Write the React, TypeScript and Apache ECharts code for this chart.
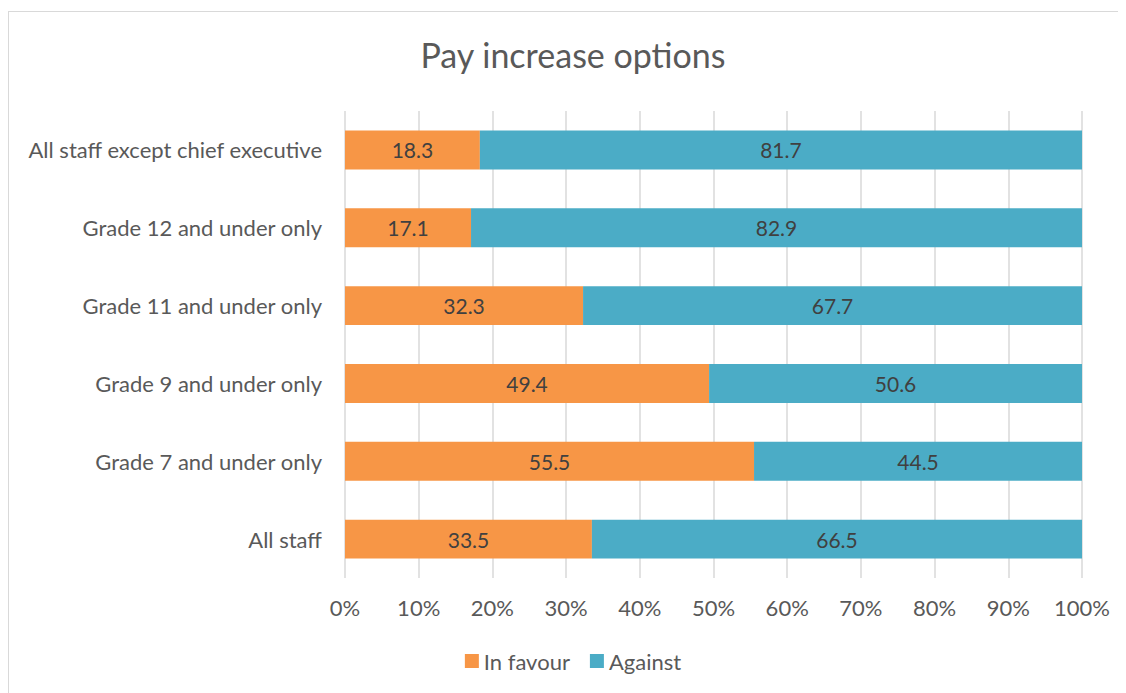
import React, { useEffect, useRef } from "react";
import * as echarts from "echarts";

const categories = [
  "All staff",
  "Grade 7 and under only",
  "Grade 9 and under only",
  "Grade 11 and under only",
  "Grade 12 and under only",
  "All staff except chief executive",
];
const inFavour = [33.5, 55.5, 49.4, 32.3, 17.1, 18.3];
const against = [66.5, 44.5, 50.6, 67.7, 82.9, 81.7];
const seriesNames = ["In favour", "Against"];
const title = "Pay increase options";

const FONT = "Lato, 'Open Sans', sans-serif";

export default function App() {
  const ref = useRef<HTMLDivElement>(null);
  useEffect(() => {
    if (!ref.current) return;
    const chart = echarts.init(ref.current, undefined, { renderer: "svg" });
    chart.setOption({
      animation: false,
      backgroundColor: "#ffffff",
      title: {
        text: title,
        left: 559,
        textAlign: "center",
        top: 20,
        textStyle: { fontFamily: FONT, fontSize: 34, fontWeight: "normal", color: "#595959" },
      },
      legend: {
        bottom: 23,
        left: "center",
        itemWidth: 14,
        itemHeight: 14,
        itemGap: 20,
        icon: "rect",
        textStyle: { fontFamily: FONT, fontSize: 22, color: "#595959" },
        data: seriesNames,
      },
      grid: { left: 336, right: 55, top: 99, bottom: 122, containLabel: false },
      xAxis: {
        type: "value",
        min: 0,
        max: 100,
        interval: 10,
        axisLabel: {
          formatter: (v: number) => v + "%",
          fontFamily: FONT,
          fontSize: 22,
          color: "#595959",
          margin: 18,
        },
        axisLine: { show: false },
        axisTick: { show: false },
        splitLine: { show: true, lineStyle: { color: "#d9d9d9", width: 1.5 } },
      },
      yAxis: {
        type: "category",
        data: categories,
        axisLine: { show: false },
        axisTick: { show: false },
        axisLabel: { fontFamily: FONT, fontSize: 22, color: "#595959", margin: 23 },
      },
      series: [
        {
          name: seriesNames[0],
          type: "bar",
          stack: "total",
          barWidth: "50%",
          data: inFavour,
          itemStyle: { color: "#F79646" },
          label: {
            show: true,
            position: "inside",
            fontFamily: FONT,
            fontSize: 21,
            color: "#404040",
            formatter: (p: any) => p.value.toFixed(1),
          },
        },
        {
          name: seriesNames[1],
          type: "bar",
          stack: "total",
          barWidth: "50%",
          data: against,
          itemStyle: { color: "#4BACC6" },
          label: {
            show: true,
            position: "inside",
            fontFamily: FONT,
            fontSize: 21,
            color: "#404040",
            formatter: (p: any) => p.value.toFixed(1),
          },
        },
      ],
    });
    return () => chart.dispose();
  }, []);
  return (
    <div
      style={{
        width: 1130,
        height: 690,
        marginTop: 3,
        border: "1px solid #d9d9d9",
        boxSizing: "border-box",
      }}
    >
      <div ref={ref} style={{ width: 1128, height: 688 }} />
    </div>
  );
}
